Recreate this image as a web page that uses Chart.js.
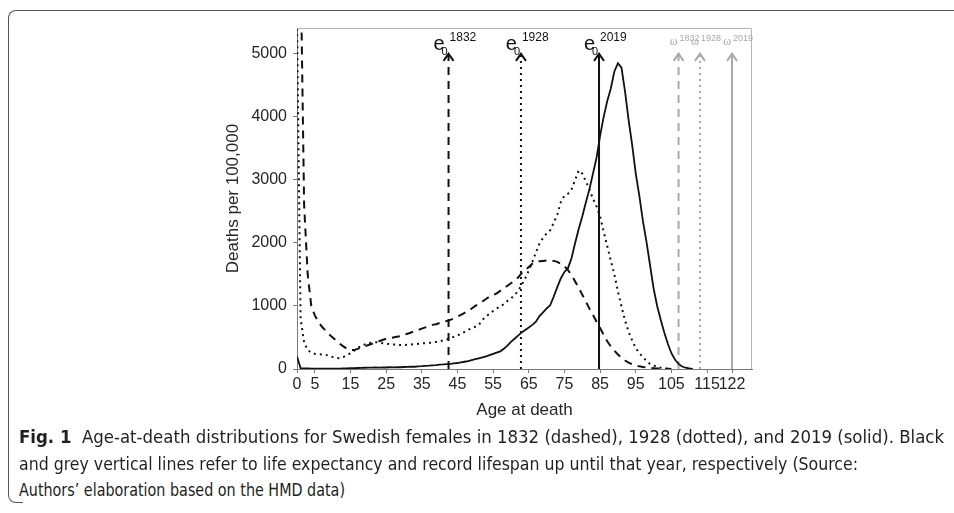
<!DOCTYPE html>
<html>
<head>
<meta charset="utf-8">
<script src="https://cdn.jsdelivr.net/npm/chart.js@4.4.1/dist/chart.umd.min.js"></script>
<style>
  html, body { margin: 0; padding: 0; background: #fff; }
  body { width: 954px; height: 513px; position: relative; overflow: hidden; }
  #frame {
    position: absolute; left: 8px; top: 10px; width: 980px; height: 482px;
    border-left: 1.5px solid #555; border-top: 1.5px solid #555; border-top-left-radius: 8px;
  }
  #frameFoot {
    position: absolute; left: 8px; top: 488px; width: 14px; height: 14px;
    border-left: 1.5px solid #555; border-bottom: 1.5px solid #555; border-bottom-left-radius: 8px;
  }
  #chartBox { position: absolute; left: 0; top: 0; width: 954px; height: 430px; }
  .capLine {
    position: absolute; left: 19px; white-space: nowrap; transform-origin: 0 50%;
    font-family: "Liberation Sans Narrow", "DejaVu Sans Condensed", "Liberation Sans", sans-serif;
    font-size: 17px; line-height: 20px; color: #231f20;
  }
  .capLine b { font-weight: bold; }
</style>
</head>
<body>
<div id="frame"></div>
<div id="frameFoot"></div>
<div id="chartBox"><canvas id="deaths" width="954" height="430"></canvas></div>
<div class="capLine" style="top:427px"><b>Fig. 1</b>&nbsp;&nbsp;Age-at-death distributions for Swedish females in 1832 (dashed), 1928 (dotted), and 2019 (solid). Black</div>
<div class="capLine" style="top:454px">and grey vertical lines refer to life expectancy and record lifespan up until that year, respectively (Source:</div>
<div class="capLine" style="top:480px">Authors’ elaboration based on the HMD data)</div>

<script>
// deaths per 100,000 by single year of age, starting at age 0
const deaths1832 = [
  16000, 6500, 2600, 1500, 1000, 850, 750, 670, 610, 550,
  500, 450, 400, 360, 320, 300, 300, 320, 340, 360,
  380, 400, 420, 440, 460, 480, 490, 500, 510, 520,
  540, 560, 580, 600, 620, 640, 660, 680, 700, 710,
  730, 750, 760, 780, 800, 830, 860, 890, 920, 960,
  1000, 1030, 1070, 1110, 1150, 1170, 1200, 1240, 1280, 1320,
  1360, 1400, 1450, 1520, 1570, 1620, 1670, 1690, 1710, 1715,
  1720, 1720, 1715, 1700, 1670, 1630, 1570, 1490, 1390, 1290,
  1180, 1070, 960, 860, 750, 650, 540, 440, 360, 290,
  230, 180, 135, 100, 75, 55, 42, 32, 24, 17,
  12, 8, 5, 3, 2, 1
];
const deaths1928 = [
  5500, 800, 420, 300, 260, 240, 235, 230, 225, 210,
  190, 175, 170, 190, 220, 250, 290, 330, 370, 390,
  410, 420, 425, 420, 410, 400, 395, 390, 385, 380,
  380, 385, 390, 395, 400, 405, 410, 415, 420, 430,
  440, 455, 470, 490, 510, 530, 560, 590, 620, 650,
  670, 700, 780, 830, 880, 920, 960, 990, 1030, 1080,
  1120, 1170, 1240, 1330, 1440, 1560, 1700, 1850, 1990, 2080,
  2150, 2200, 2320, 2450, 2650, 2750, 2780, 2850, 3000, 3150,
  3100, 2980, 2850, 2700, 2580, 2420, 2180, 1950, 1720, 1500,
  1230, 990, 770, 590, 450, 330, 250, 190, 130, 80,
  55, 35, 20, 10, 4, 1
];
const deaths2019 = [
  200, 15, 10, 8, 7, 6, 6, 5, 5, 5,
  6, 6, 7, 8, 10, 12, 14, 16, 18, 20,
  22, 22, 24, 22, 26, 24, 28, 26, 30, 28,
  32, 34, 38, 36, 42, 45, 50, 52, 58, 62,
  68, 72, 78, 82, 88, 95, 105, 115, 125, 140,
  155, 170, 185, 200, 220, 240, 260, 280, 320, 370,
  430, 480, 530, 580, 620, 660, 700, 750, 840, 900,
  960, 1010, 1150, 1300, 1440, 1540, 1600, 1760, 2000, 2220,
  2420, 2640, 2850, 3100, 3350, 3700, 4000, 4250, 4450, 4720,
  4850, 4780, 4400, 3950, 3550, 3100, 2750, 2350, 2020, 1650,
  1280, 1000, 780, 580, 400, 250, 150, 80, 40, 20,
  8, 3
];

// life expectancy at birth (e0) and record lifespan (omega) up to each year
const markerYears = ['1832', '1928', '2019'];
const e0Ages = [42.5, 62.8, 84.7];
const omegaAges = [107, 113, 122];
const arrowTop = 5000;

const xTickAges = [0, 5, 15, 25, 35, 45, 55, 65, 75, 85, 95, 105, 115, 122];
const yTickValues = [0, 1000, 2000, 3000, 4000, 5000];

const FONT = '"Liberation Sans", Arial, sans-serif';
const INK = '#262626';
const GREY = '#a9a9a9';
const dashes = [[8, 6], [2, 4], []];

const toPoints = arr => arr.map((v, age) => ({ x: age, y: v }));

function curve(label, values, dash, width) {
  return {
    label, data: toPoints(values), borderColor: '#111', borderWidth: width,
    borderDash: dash, pointRadius: 0, tension: 0, fill: false
  };
}

function verticalLine(age, color, dash) {
  return {
    data: [{ x: age, y: 0 }, { x: age, y: arrowTop }], borderColor: color,
    borderWidth: 2, borderDash: dash, pointRadius: 0, fill: false
  };
}

const datasets = [
  curve('1832', deaths1832, dashes[0], 2),
  curve('1928', deaths1928, dashes[1], 2),
  curve('2019', deaths2019, dashes[2], 1.8),
  ...e0Ages.map((a, i) => verticalLine(a, '#111', dashes[i])),
  ...omegaAges.map((a, i) => verticalLine(a, GREY, dashes[i]))
];

function chevron(ctx, px, py, color) {
  ctx.save();
  ctx.strokeStyle = color;
  ctx.lineWidth = 2;
  ctx.setLineDash([]);
  ctx.beginPath();
  ctx.moveTo(px - 5, py + 7);
  ctx.lineTo(px, py);
  ctx.lineTo(px + 5, py + 7);
  ctx.stroke();
  ctx.restore();
}

// plot-area outline, arrowheads and e0 / omega labels
const markerPlugin = {
  id: 'markers',
  afterDatasetsDraw(chart) {
    const { ctx, chartArea: a, scales: { x, y } } = chart;
    ctx.save();
    ctx.strokeStyle = '#b4b4b4';
    ctx.lineWidth = 1;
    ctx.beginPath();
    ctx.moveTo(a.left, a.top + 0.5);
    ctx.lineTo(a.right - 0.5, a.top + 0.5);
    ctx.lineTo(a.right - 0.5, a.bottom);
    ctx.stroke();

    const py = y.getPixelForValue(arrowTop);
    ctx.textBaseline = 'alphabetic';

    e0Ages.forEach((age, i) => {
      const px = x.getPixelForValue(age);
      chevron(ctx, px, py, '#111');
      ctx.fillStyle = '#111';
      ctx.font = '20px ' + FONT;
      ctx.textAlign = 'right';
      ctx.fillText('e', px - 4, py - 4);
      ctx.font = '11px ' + FONT;
      ctx.textAlign = 'left';
      ctx.fillText('0', px - 7, py + 1);
      ctx.font = '12px ' + FONT;
      ctx.fillText(markerYears[i], px + 1, py - 13);
    });

    omegaAges.forEach((age, i) => {
      const px = x.getPixelForValue(age);
      chevron(ctx, px, py, GREY);
      ctx.fillStyle = GREY;
      ctx.font = '12px "Liberation Serif", serif';
      ctx.textAlign = 'right';
      ctx.fillText('ω', px - 1, py - 9);
      ctx.font = '9px ' + FONT;
      ctx.textAlign = 'left';
      ctx.fillText(markerYears[i], px + 1, py - 13);
    });
    ctx.restore();
  }
};

new Chart(document.getElementById('deaths'), {
  type: 'line',
  data: { datasets },
  options: {
    responsive: false,
    animation: false,
    devicePixelRatio: 1,
    layout: { padding: { left: 219, top: 28, right: 202, bottom: 5 } },
    plugins: { legend: { display: false }, tooltip: { enabled: false } },
    scales: {
      x: {
        type: 'linear', min: 0, max: 127.6,
        afterBuildTicks: s => { s.ticks = xTickAges.map(v => ({ value: v })); },
        afterFit: s => { s.height = 56; },
        grid: { drawOnChartArea: false, tickLength: 4, color: '#7a7a7a' },
        border: { color: '#7a7a7a', width: 1 },
        ticks: { autoSkip: false, maxRotation: 0, minRotation: 0, padding: 2, color: INK,
                 font: { family: FONT, size: 16 } },
        title: { display: true, text: 'Age at death', color: INK, font: { family: FONT, size: 17 },
                 padding: { top: 4, bottom: 4 } }
      },
      y: {
        type: 'linear', min: 0, max: 5410,
        afterBuildTicks: s => { s.ticks = yTickValues.map(v => ({ value: v })); },
        afterFit: s => { s.width = 78; },
        grid: { drawOnChartArea: false, tickLength: 4, color: '#7a7a7a' },
        border: { color: '#7a7a7a', width: 1 },
        ticks: { padding: 6, color: INK, font: { family: FONT, size: 16 },
                 callback: v => String(v) },
        title: { display: true, text: 'Deaths per 100,000', color: INK, font: { family: FONT, size: 17 },
                 padding: { top: 4, bottom: 4 } }
      }
    }
  },
  plugins: [markerPlugin]
});

// stretch each caption line to its set width
const capWidths = [925, 839, 326];
document.querySelectorAll('.capLine').forEach((el, i) => {
  const w = el.getBoundingClientRect().width;
  el.style.transform = 'scaleX(' + (capWidths[i] / w).toFixed(4) + ')';
});
</script>
</body>
</html>
